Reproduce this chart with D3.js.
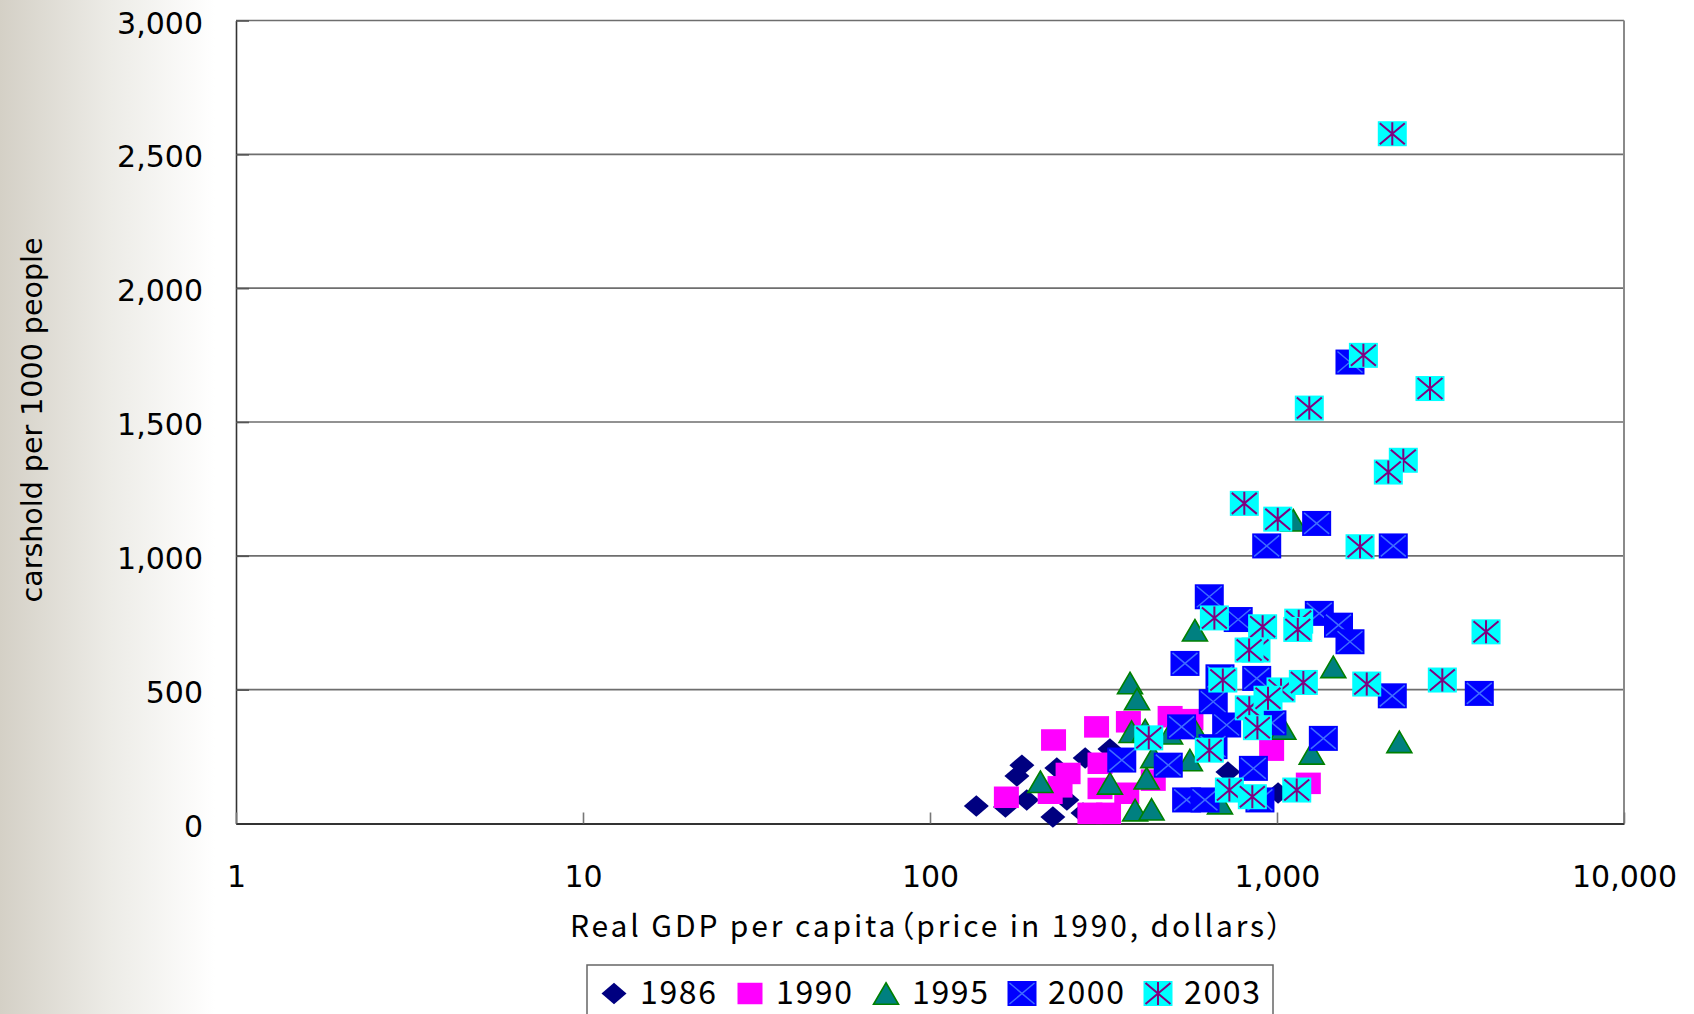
<!DOCTYPE html>
<html><head><meta charset="utf-8">
<script src="https://d3js.org/d3.v7.min.js"></script>
<style>html,body{margin:0;padding:0;background:#fff;overflow:hidden}
.cjk{font-feature-settings:"palt" 1;}</style>
</head><body>
<svg id="chart" width="1694" height="1014"></svg>
<script>
// ---- data ----
const seriesNames = ["1986", "1990", "1995", "2000", "2003"];

const gdp1986  = [136, 184, 178, 226, 165, 190, 232, 280, 330, 722, 1007, 248, 276, 235];
const cars1986 = [65, 218, 177, 24, 62, 88, 207, 245, 278, 192, 114, 88, 39, 129];

const gdp1990  = [227, 302, 373, 166, 250, 237, 222, 309, 309, 289, 327, 492, 369, 440, 965, 1231, 565];
const cars1990 = [312, 361, 380, 98, 187, 137, 113, 225, 131, 38, 38, 399, 113, 162, 274, 150, 388];

const gdp1995  = [208, 330, 421, 390, 435, 377, 395, 381, 417, 440, 492, 580, 1043, 1259, 1453, 2252, 1114, 573, 561, 685];
const cars1995 = [156, 150, 169, 50, 53, 525, 465, 343, 349, 249, 337, 722, 355, 262, 585, 305, 1133, 361, 237, 76];

const gdp2000  = [357, 486, 638, 773, 1324, 543, 685, 874, 655, 716, 531, 1360, 855, 549, 620, 893, 654, 967, 1504, 1623, 1623, 1301, 934, 2163, 2149, 3828];
const cars2000 = [237, 218, 847, 762, 785, 598, 548, 542, 455, 368, 361, 318, 206, 88, 88, 88, 287, 376, 741, 679, 1724, 1121, 1037, 1037, 477, 486];

const gdp2003  = [2149, 1774, 2760, 1239, 2312, 2093, 805, 1005, 1735, 4003, 660, 909, 1155, 870, 831, 1148, 698, 1027, 1191, 1814, 2995, 832, 878, 942, 638, 427, 729, 849, 1140];
const cars2003 = [2577, 1749, 1625, 1552, 1357, 1313, 1196, 1137, 1034, 716, 768, 735, 756, 648, 648, 725, 536, 499, 527, 521, 536, 432, 358, 468, 274, 320, 125, 100, 125];

const xTickValues = [1, 10, 100, 1000, 10000];
const xTickLabels = ["1", "10", "100", "1,000", "10,000"];
const yTickValues = [0, 500, 1000, 1500, 2000, 2500, 3000];
const yTickLabels = ["0", "500", "1,000", "1,500", "2,000", "2,500", "3,000"];
const xTitle = "Real GDP per capita（price in 1990, dollars）";
const yTitle = "carshold per 1000 people";

// ---- layout ----
const svg = d3.select("#chart");
const L = 236, R = 1624, T = 20.5, B = 823.5;
const x = d3.scaleLog().domain([1, 10000]).range([L, R]);
const y = d3.scaleLinear().domain([0, 3000]).range([B, T]);

const defs = svg.append("defs");
const grad = defs.append("linearGradient").attr("id", "bg").attr("x1", "0").attr("x2", "1").attr("y1", "0").attr("y2", "0");
grad.append("stop").attr("offset", "0").attr("stop-color", "#d4d0c6");
grad.append("stop").attr("offset", "0.5").attr("stop-color", "#ecebe6");
grad.append("stop").attr("offset", "1").attr("stop-color", "#ffffff");
svg.append("rect").attr("width", 1694).attr("height", 1014).attr("fill", "#fff");
svg.append("rect").attr("width", 215).attr("height", 1014).attr("fill", "url(#bg)");

// plot area
svg.append("rect").attr("x", L).attr("y", T).attr("width", R - L).attr("height", B - T).attr("fill", "#fff");

// gridlines
svg.append("g").selectAll("line").data(yTickValues.filter(v => v > 0)).join("line")
  .attr("x1", L).attr("x2", R).attr("y1", d => y(d)).attr("y2", d => y(d))
  .attr("stroke", "#6e6e6e").attr("stroke-width", 1.6);
// right border
svg.append("line").attr("x1", R).attr("x2", R).attr("y1", T).attr("y2", B)
  .attr("stroke", "#8a8a8a").attr("stroke-width", 2);

// axes
const yAxis = d3.axisLeft(y).tickValues(yTickValues).tickFormat((d, i) => yTickLabels[i])
  .tickSizeInner(-13).tickSizeOuter(0).tickPadding(33);
const gy = svg.append("g").attr("transform", `translate(${L},0)`).call(yAxis);
gy.select(".domain").attr("stroke", "#333").attr("stroke-width", 1.6);
gy.selectAll(".tick line").attr("stroke", "#555").attr("stroke-width", 1.6);
gy.selectAll(".tick text").attr("font-family", "DejaVu Sans").attr("font-size", 30)
  .attr("fill", "#000").attr("dy", "0.42em");

const xAxis = d3.axisBottom(x).tickValues(xTickValues).tickFormat((d, i) => xTickLabels[i])
  .tickSizeInner(-11).tickSizeOuter(0).tickPadding(0);
const gx = svg.append("g").attr("transform", `translate(0,${B})`).call(xAxis);
gx.select(".domain").attr("stroke", "#333").attr("stroke-width", 1.8);
gx.selectAll(".tick line").attr("stroke", "#777").attr("stroke-width", 1.6);
gx.selectAll(".tick text").attr("font-family", "DejaVu Sans").attr("font-size", 30)
  .attr("fill", "#000").attr("y", 63.5).attr("dy", 0);

// titles
svg.append("text").attr("class", "cjk").attr("x", 926).attr("y", 937).attr("text-anchor", "middle")
  .attr("font-family", "Noto Sans CJK JP").attr("font-size", 30).attr("fill", "#000")
  .attr("textLength", 712).attr("lengthAdjust", "spacing").text(xTitle);
svg.append("text").attr("transform", "translate(42,420) rotate(-90)").attr("text-anchor", "middle")
  .attr("font-family", "DejaVu Sans").attr("font-size", 28.5).attr("fill", "#000").text(yTitle);

// ---- markers ----
const W1 = 25, H1 = 21.5, W2 = 29, H2 = 25;
function drawMarker(g, type) {
  if (type === 0) {
    g.append("path").attr("d", `M0,${-H1/2}L${W1/2},0L0,${H1/2}L${-W1/2},0Z`).attr("fill", "#000080");
  } else if (type === 1) {
    g.append("rect").attr("x", -W1/2).attr("y", -H1/2).attr("width", W1).attr("height", H1).attr("fill", "#ff00ff");
  } else if (type === 2) {
    g.append("path").attr("d", `M0,${-H1/2}L${W1/2},${H1/2}L${-W1/2},${H1/2}Z`)
      .attr("fill", "#008080").attr("stroke", "#008000").attr("stroke-width", 1.6).attr("stroke-linejoin", "miter");
  } else if (type === 3) {
    g.append("rect").attr("x", -W2/2).attr("y", -H2/2).attr("width", W2).attr("height", H2).attr("fill", "#0000ff");
    g.append("path").attr("d", `M${-W2/2+2},${-H2/2+2}L${W2/2-2},${H2/2-2}M${W2/2-2},${-H2/2+2}L${-W2/2+2},${H2/2-2}`)
      .attr("stroke", "#3f6cff").attr("stroke-width", 1.5).attr("fill", "none");
  } else {
    g.append("rect").attr("x", -W2/2).attr("y", -H2/2).attr("width", W2).attr("height", H2).attr("fill", "#00ffff");
    g.append("path").attr("d", `M${-W2/2+2},${-H2/2+2}L${W2/2-2},${H2/2-2}M${W2/2-2},${-H2/2+2}L${-W2/2+2},${H2/2-2}M0,${-H2/2+1}L0,${H2/2-1}`)
      .attr("stroke", "#800080").attr("stroke-width", 2).attr("fill", "none");
  }
}

const series = [
  [gdp1986, cars1986], [gdp1990, cars1990], [gdp1995, cars1995], [gdp2000, cars2000], [gdp2003, cars2003]
];
series.forEach(([gx_, gy_], si) => {
  const pts = gx_.map((v, i) => [v, gy_[i]]);
  svg.append("g").selectAll("g").data(pts).join("g")
    .attr("transform", d => `translate(${x(d[0])},${y(d[1])})`)
    .each(function () { drawMarker(d3.select(this), si); });
});

// ---- legend ----
svg.append("rect").attr("x", 587).attr("y", 965).attr("width", 686).attr("height", 80)
  .attr("fill", "#fff").attr("stroke", "#666").attr("stroke-width", 1.5);
const legendScale = d3.scalePoint().domain(seriesNames).range([614, 1158]);
seriesNames.forEach((name, i) => {
  const cx = legendScale(name);
  const g = svg.append("g").attr("transform", `translate(${cx},993.5)`);
  drawMarker(g, i);
  svg.append("text").attr("x", cx + 26).attr("y", 1003.5)
    .attr("font-family", "Noto Sans CJK JP").attr("font-size", 32).attr("fill", "#000")
    .attr("textLength", 76).attr("lengthAdjust", "spacing").text(name);
});
</script>
</body></html>
